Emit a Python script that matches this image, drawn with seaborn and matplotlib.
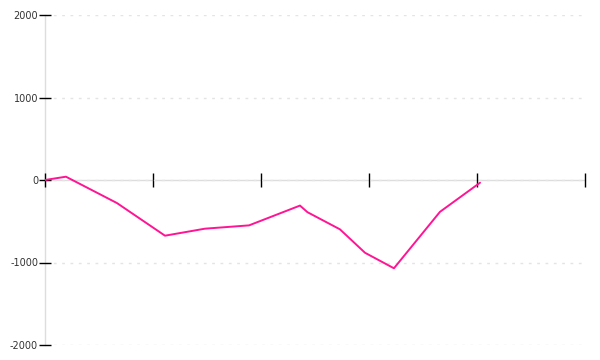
import matplotlib
matplotlib.use("Agg")
import matplotlib.pyplot as plt
import seaborn as sns
import pandas as pd

# Data
x_vals = [0.0, 0.194, 0.667, 1.111, 1.481, 1.889, 2.361, 2.43, 2.731, 2.963, 3.231, 3.657, 4.028]
y_vals = [0, 40, -280, -675, -590, -550, -310, -390, -598, -882, -1070, -386, -33]
y_ticks = [-2000, -1000, 0, 1000, 2000]
x_ticks = [0, 1, 2, 3, 4, 5]

sns.set_style("white")
plt.rcParams['font.family'] = ['DejaVu Sans']

df = pd.DataFrame({"x": x_vals, "y": y_vals})

fig = plt.figure(figsize=(6, 3.6), dpi=100)
ax = fig.add_axes([0.075, 15 / 360, 0.9, 330 / 360])

sns.lineplot(data=df, x="x", y="y", ax=ax, color="#ff1493", linewidth=1.4, sort=False)

ax.set_xlim(0, 5)
ax.set_ylim(-2000, 2000)
ax.set_xticks(x_ticks)
ax.set_xticklabels([])
ax.set_yticks(y_ticks)
ax.set_yticklabels([str(v) for v in y_ticks])
ax.set_xlabel("")
ax.set_ylabel("")

for s in ["top", "right"]:
    ax.spines[s].set_visible(False)
ax.spines["bottom"].set_position(("data", 0))
for s in ["bottom", "left"]:
    ax.spines[s].set_color("#dddddd")
    ax.spines[s].set_linewidth(1)
    ax.spines[s].set_zorder(0.3)

ax.tick_params(axis="x", direction="inout", length=10, width=1, color="black", bottom=True)
ax.tick_params(axis="y", direction="inout", length=8, width=1, color="black", left=True,
               labelsize=7, labelcolor="#333333", pad=1)

ax.yaxis.grid(True, linestyle=(0, (2, 4)), color="#e4e4e4", linewidth=1)
ax.xaxis.grid(False)
ax.set_axisbelow(True)

fig.savefig("out.png", dpi=100)
